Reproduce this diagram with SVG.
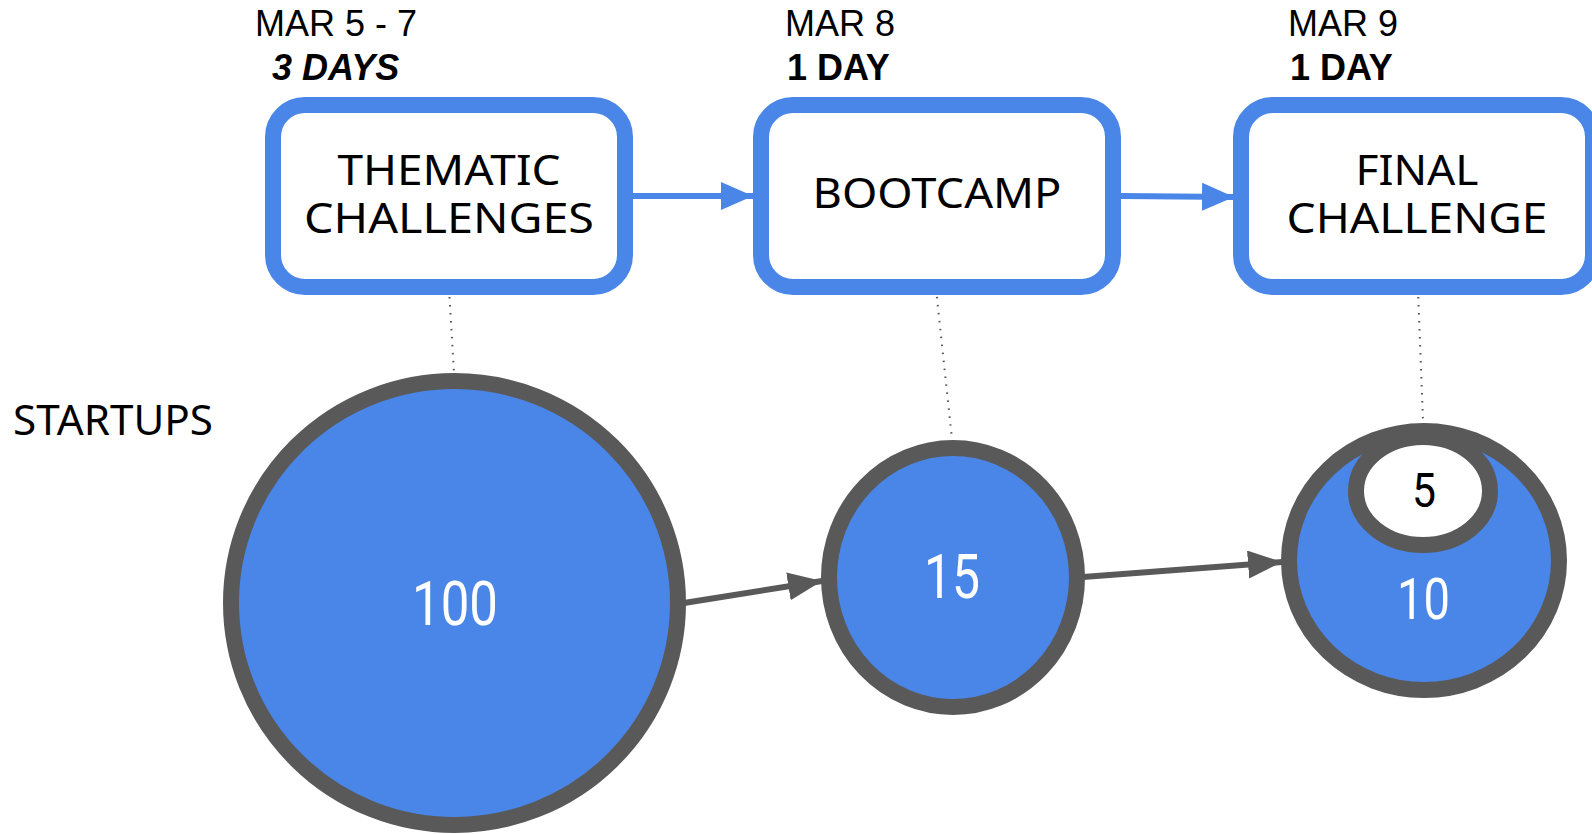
<svg xmlns="http://www.w3.org/2000/svg" width="1592" height="834" viewBox="0 0 1592 834">
  <style>
    .box { fill: #ffffff; stroke: #4a86e8; stroke-width: 16; }
    .boxtext { font-family: "Noto Sans", "Liberation Sans", sans-serif; font-size: 41px; fill: #000000; text-anchor: middle; }
    .date { font-family: "Liberation Sans", Arial, sans-serif; font-size: 36px; fill: #000000; }
    .days { font-family: "Liberation Sans", Arial, sans-serif; font-size: 36px; font-weight: bold; fill: #000000; }
    .circ { fill: #4a86e8; stroke: #595959; stroke-width: 16; }
    .num { font-family: "Roboto", "Noto Sans", sans-serif; fill: #ffffff; text-anchor: middle; }
    .blue { stroke: #4a86e8; stroke-width: 6; fill: none; }
    .gray { stroke: #595959; stroke-width: 6; fill: none; }
    .dots { stroke: #555555; stroke-width: 2; stroke-dasharray: 1.5 6.5; fill: none; }
  </style>
  <defs>
    <marker id="ahBlue" markerUnits="userSpaceOnUse" markerWidth="34" markerHeight="30" refX="32" refY="14" orient="auto">
      <path d="M0,0 L32,14 L0,28 Z" fill="#4a86e8"/>
    </marker>
    <marker id="ahGray" markerUnits="userSpaceOnUse" markerWidth="36" markerHeight="30" refX="34" refY="14" orient="auto">
      <path d="M0,0 L34,14 L0,28 Z" fill="#595959"/>
    </marker>
  </defs>

  <rect width="1592" height="834" fill="#ffffff"/>

  <g id="connectors">
    <line class="dots" x1="449" y1="289" x2="454" y2="372"/>
    <line class="dots" x1="936" y1="289" x2="952" y2="439"/>
    <line class="dots" x1="1418" y1="289" x2="1423" y2="421"/>
    <line class="blue" x1="633" y1="196" x2="753" y2="196" marker-end="url(#ahBlue)"/>
    <line class="blue" x1="1121" y1="196" x2="1234" y2="197" marker-end="url(#ahBlue)"/>
    <line class="gray" x1="684" y1="603" x2="822" y2="581" marker-end="url(#ahGray)"/>
    <line class="gray" x1="1083" y1="577" x2="1282" y2="562" marker-end="url(#ahGray)"/>
  </g>

  <g id="thematic">
    <text class="date" x="255" y="36">MAR 5 - 7</text>
    <text class="days" x="272" y="80" font-style="italic">3 DAYS</text>
    <rect class="box" x="273" y="105" width="352" height="182" rx="32" ry="32"/>
    <text class="boxtext" x="449" y="185" textLength="223" lengthAdjust="spacingAndGlyphs">THEMATIC</text>
    <text class="boxtext" x="449" y="233" textLength="290" lengthAdjust="spacingAndGlyphs">CHALLENGES</text>
  </g>

  <g id="bootcamp">
    <text class="date" x="785" y="36">MAR 8</text>
    <text class="days" x="787" y="80">1 DAY</text>
    <rect class="box" x="761" y="105" width="352" height="182" rx="32" ry="32"/>
    <text class="boxtext" x="937" y="208" textLength="249" lengthAdjust="spacingAndGlyphs">BOOTCAMP</text>
  </g>

  <g id="final">
    <text class="date" x="1288" y="36">MAR 9</text>
    <text class="days" x="1290" y="80">1 DAY</text>
    <rect class="box" x="1241" y="105" width="352" height="182" rx="32" ry="32"/>
    <text class="boxtext" x="1417" y="185" textLength="123" lengthAdjust="spacingAndGlyphs">FINAL</text>
    <text class="boxtext" x="1417" y="233" textLength="261" lengthAdjust="spacingAndGlyphs">CHALLENGE</text>
  </g>

  <g id="startups-label">
    <text class="boxtext" x="113" y="435" font-size="37" textLength="200" lengthAdjust="spacingAndGlyphs">STARTUPS</text>
  </g>

  <g id="circle-100">
    <ellipse class="circ" cx="454.5" cy="603" rx="223.5" ry="222"/>
    <text class="num" x="455" y="625" font-size="62" textLength="86" lengthAdjust="spacingAndGlyphs">100</text>
  </g>

  <g id="circle-15">
    <ellipse class="circ" cx="953" cy="577.5" rx="124" ry="129.5"/>
    <text class="num" x="952" y="598" font-size="62" textLength="56" lengthAdjust="spacingAndGlyphs">15</text>
  </g>

  <g id="circle-10">
    <ellipse class="circ" cx="1424" cy="560.5" rx="135" ry="129.5"/>
    <text class="num" x="1423.5" y="619" font-size="58" textLength="53" lengthAdjust="spacingAndGlyphs">10</text>
  </g>

  <g id="circle-5">
    <ellipse cx="1423" cy="491" rx="67" ry="54" fill="#ffffff" stroke="#595959" stroke-width="16"/>
    <text class="num" x="1424" y="507" font-size="48" fill="#000000" style="fill:#000000" textLength="24" lengthAdjust="spacingAndGlyphs">5</text>
  </g>
</svg>
